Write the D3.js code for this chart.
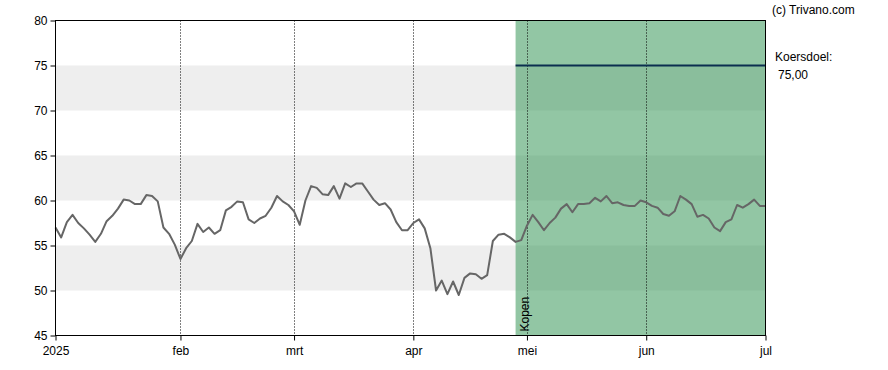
<!DOCTYPE html>
<html>
<head>
<meta charset="utf-8">
<script src="https://cdn.jsdelivr.net/npm/d3@7"></script>
<style>
  html, body { margin: 0; padding: 0; background: #fff; }
  svg { display: block; font-family: Arial, "Liberation Sans", sans-serif; }
</style>
</head>
<body>
<svg id="chart" width="888" height="370"></svg>
<script>
// ---- data (one value per trading day, Jan 2 2025 .. Jul 1 2025) ----
const prices = [
  57.0, 55.9, 57.6, 58.4, 57.5, 56.9, 56.2, 55.4, 56.3, 57.7,
  58.3, 59.1, 60.1, 60.0, 59.6, 59.6, 60.6, 60.5, 59.9, 57.0,
  56.3, 55.1, 53.5, 54.7, 55.5, 57.4, 56.5, 57.0, 56.3, 56.7,
  58.9, 59.3, 59.9, 59.8, 57.9, 57.5, 58.0, 58.3, 59.2, 60.5,
  59.9, 59.5, 58.8, 57.3, 60.0, 61.6, 61.4, 60.7, 60.6, 61.6,
  60.2, 61.9, 61.5, 61.9, 61.9, 61.0, 60.1, 59.5, 59.7, 59.0,
  57.6, 56.7, 56.7, 57.5, 57.9, 56.9, 54.7, 50.0, 51.1, 49.6,
  51.0, 49.5, 51.4, 51.9, 51.8, 51.3, 51.7, 55.5, 56.2, 56.3,
  55.9, 55.4, 55.6, 57.2, 58.4, 57.6, 56.7, 57.5, 58.1, 59.1,
  59.6, 58.7, 59.6, 59.6, 59.7, 60.3, 59.9, 60.5, 59.7, 59.8,
  59.5, 59.4, 59.4, 60.0, 59.8, 59.4, 59.2, 58.5, 58.3, 58.8,
  60.5, 60.1, 59.6, 58.2, 58.4, 58.0, 57.0, 56.6, 57.6, 57.9,
  59.5, 59.2, 59.6, 60.1, 59.4, 59.4
];
const monthLabels = ["2025", "feb", "mrt", "apr", "mei", "jun", "jul"];
const monthStartIndex = [0, 22, 42, 63, 83, 104, 125];
const yTicks = [45, 50, 55, 60, 65, 70, 75, 80];
const bands = [[70, 75], [60, 65], [50, 55]];
const adviceStartIndex = 81;
const adviceLabel = "Kopen";
const targetPrice = 75;
const targetLabel = "Koersdoel:";
const targetText = "75,00";
const credit = "(c) Trivano.com";

// ---- layout ----
const svg = d3.select("#chart");
const pLeft = 55.5, pRight = 765.5, pTop = 20.5, pBottom = 335.5;

const x = d3.scaleLinear().domain([0, 125]).range([pLeft, pRight]);
const y = d3.scaleLinear().domain([45, 80]).range([pBottom, pTop]);

// bands
svg.append("g").selectAll("rect").data(bands).join("rect")
  .attr("x", pLeft).attr("width", pRight - pLeft)
  .attr("y", d => y(d[1])).attr("height", d => y(d[0]) - y(d[1]))
  .attr("fill", "#eeeeee");

// advice region
svg.append("rect")
  .attr("x", x(adviceStartIndex)).attr("width", pRight - x(adviceStartIndex))
  .attr("y", pTop).attr("height", pBottom - pTop)
  .attr("fill", "rgb(50,148,84)").attr("fill-opacity", 0.53);

// vertical dotted month grid
svg.append("g").selectAll("line").data(monthStartIndex.slice(1, -1)).join("line")
  .attr("x1", d => Math.round(x(d)) + 0.5).attr("x2", d => Math.round(x(d)) + 0.5)
  .attr("y1", pTop).attr("y2", pBottom)
  .attr("stroke", "#000").attr("stroke-width", 1)
  .attr("stroke-dasharray", "1,2");

// price line
const line = d3.line().x((d, i) => x(i)).y(d => y(d));
svg.append("path").datum(prices)
  .attr("d", line)
  .attr("fill", "none")
  .attr("stroke", "#666666")
  .attr("stroke-width", 2)
  .attr("stroke-linejoin", "round");

// target line
svg.append("line")
  .attr("x1", x(adviceStartIndex)).attr("x2", pRight)
  .attr("y1", y(targetPrice)).attr("y2", y(targetPrice))
  .attr("stroke", "#0b2e4f").attr("stroke-width", 2);

// frame
svg.append("rect")
  .attr("x", pLeft).attr("y", pTop)
  .attr("width", pRight - pLeft).attr("height", pBottom - pTop)
  .attr("fill", "none").attr("stroke", "#000").attr("stroke-width", 1);

// y axis
const yAxis = d3.axisLeft(y).tickValues(yTicks).tickSize(5).tickPadding(3).tickFormat(d3.format("d"));
const gy = svg.append("g").attr("transform", `translate(${pLeft},0)`).call(yAxis);
gy.select(".domain").remove();
gy.selectAll("text").attr("font-size", 12).attr("fill", "#000").attr("font-family", "Arial, 'Liberation Sans', sans-serif");
gy.selectAll("line").attr("stroke", "#000");

// x axis
const xAxis = d3.axisBottom(x).tickValues(monthStartIndex).tickSize(5).tickPadding(6)
  .tickFormat((d, i) => monthLabels[i]);
const gx = svg.append("g").attr("transform", `translate(0,${pBottom})`).call(xAxis);
gx.select(".domain").remove();
gx.selectAll("text").attr("font-size", 12).attr("fill", "#000").attr("font-family", "Arial, 'Liberation Sans', sans-serif");
gx.selectAll("line").attr("stroke", "#000");

// advice label
svg.append("text")
  .attr("transform", `translate(${x(adviceStartIndex) + 13},${pBottom - 4}) rotate(-90)`)
  .attr("font-size", 12).attr("fill", "#000")
  .text(adviceLabel);

// right side texts
svg.append("text").attr("x", 772).attr("y", 13.5).attr("font-size", 12).attr("fill", "#000").text(credit);
svg.append("text").attr("x", 775).attr("y", 61).attr("font-size", 12).attr("fill", "#000").text(targetLabel);
svg.append("text").attr("x", 778).attr("y", 79).attr("font-size", 12).attr("fill", "#000").text(targetText);
</script>
</body>
</html>
